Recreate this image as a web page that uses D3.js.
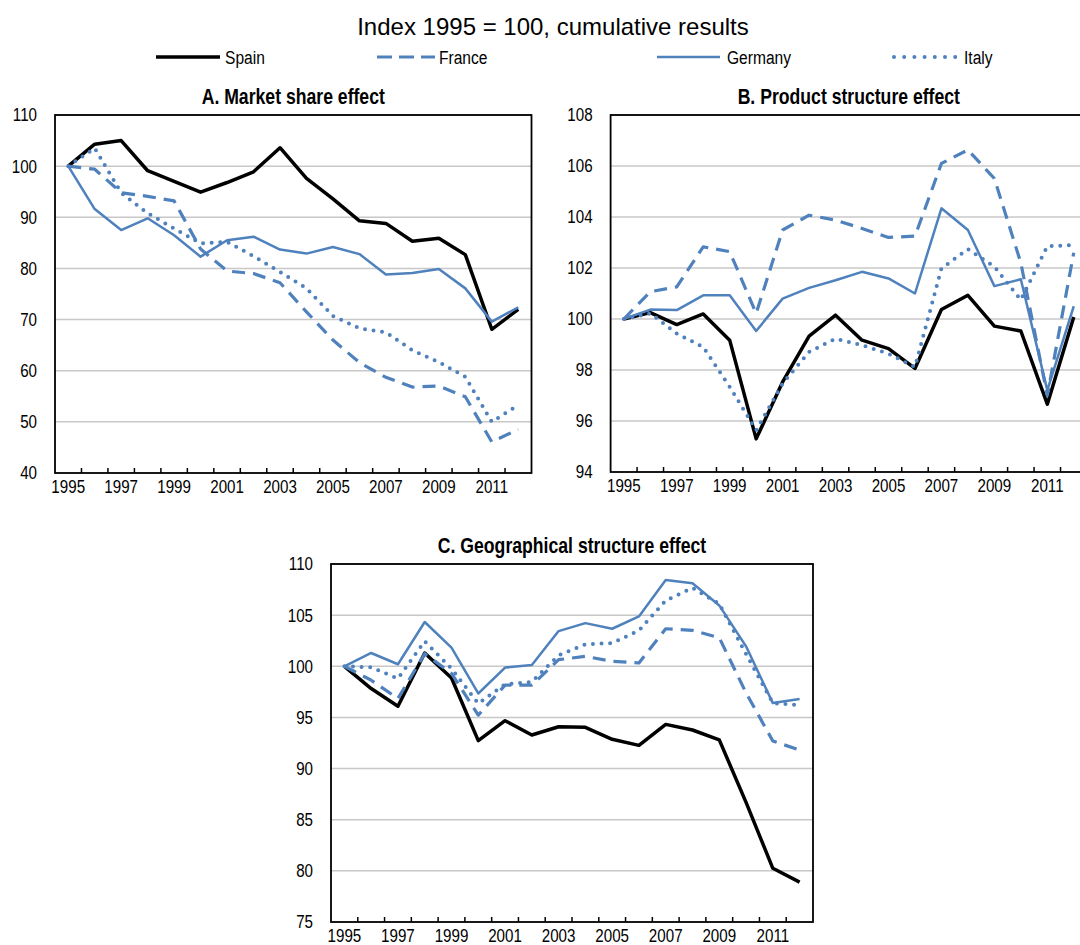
<!DOCTYPE html>
<html lang="en">
<head>
<meta charset="utf-8">
<script src="https://d3js.org/d3.v7.min.js"></script>
<style>
  body { margin: 0; background: #fff; }
  svg { display: block; }
  text { font-family: "Liberation Sans", Arial, sans-serif; }
</style>
</head>
<body>
<script>
// categories
const years = [1995, 1996, 1997, 1998, 1999, 2000, 2001, 2002, 2003, 2004,
               2005, 2006, 2007, 2008, 2009, 2010, 2011, 2012];
const yearLabels = [1995, 1997, 1999, 2001, 2003, 2005, 2007, 2009, 2011];
const countries = ["Spain", "France", "Germany", "Italy"];

// A. Market share effect
const marketSpain   = [100, 104.3, 105.0, 99.1, 97.0, 94.9, 96.8, 98.9, 103.6, 97.6, 93.6, 89.3, 88.8, 85.3, 85.9, 82.7, 68.1, 72.0];
const marketFrance  = [100, 99.4, 94.8, 94.1, 93.2, 83.8, 79.5, 79.0, 77.2, 71.5, 66.0, 61.6, 58.7, 56.8, 57.0, 54.9, 46.1, 48.5];
const marketGermany = [100, 91.6, 87.5, 89.8, 86.5, 82.3, 85.5, 86.2, 83.7, 82.9, 84.2, 82.8, 78.8, 79.1, 79.9, 76.1, 69.6, 72.4];
const marketItaly   = [100, 103.5, 94.8, 90.8, 87.8, 84.9, 85.2, 82.4, 79.3, 76.1, 70.7, 68.3, 67.5, 64.0, 61.7, 58.8, 50.0, 53.3];

// B. Product structure effect
const productSpain   = [100, 100.25, 99.78, 100.2, 99.17, 95.3, 97.53, 99.33, 100.15, 99.17, 98.84, 98.06, 100.37, 100.93, 99.72, 99.53, 96.66, 100.08];
const productFrance  = [100, 101.07, 101.26, 102.83, 102.64, 100.22, 103.49, 104.07, 103.88, 103.55, 103.2, 103.25, 106.1, 106.63, 105.51, 102.2, 97.0, 102.6];
const productGermany = [100, 100.37, 100.35, 100.93, 100.93, 99.53, 100.8, 101.22, 101.52, 101.85, 101.59, 101.0, 104.34, 103.49, 101.29, 101.56, 97.2, 100.5];
const productItaly   = [100, 100.22, 99.43, 98.9, 97.34, 95.64, 97.47, 98.71, 99.23, 98.97, 98.64, 98.12, 101.98, 102.74, 102.05, 100.75, 102.85, 102.9];

// C. Geographical structure effect
const geoSpain   = [100, 97.82, 96.1, 101.3, 98.86, 92.73, 94.68, 93.28, 94.09, 94.03, 92.86, 92.27, 94.32, 93.77, 92.8, 86.7, 80.25, 78.9];
const geoFrance  = [100, 98.64, 96.85, 101.23, 99.3, 95.23, 98.15, 98.15, 100.65, 100.97, 100.49, 100.32, 103.67, 103.51, 102.79, 97.4, 92.7, 91.8];
const geoGermany = [100, 101.3, 100.2, 104.33, 101.82, 97.34, 99.87, 100.13, 103.44, 104.22, 103.67, 104.87, 108.44, 108.12, 105.95, 101.95, 96.4, 96.8];
const geoItaly   = [100, 99.9, 98.8, 102.45, 99.77, 96.36, 98.25, 98.47, 101.07, 102.14, 102.27, 103.5, 106.43, 107.66, 106.1, 101.2, 96.4, 96.2];

const blue = "#4f81bd";
const narrow = 0.82; // Arial Narrow look from Liberation Sans
const styles = {
  Spain:   {stroke: "#000", width: 3.5, dash: null, cap: "butt"},
  France:  {stroke: blue, width: 3.2, dash: "13,8", cap: "butt"},
  Germany: {stroke: blue, width: 2.5, dash: null, cap: "butt"},
  Italy:   {stroke: blue, width: 4, dash: "0,8.6", cap: "round"}
};

const panels = [
  {title: "A. Market share effect", x0: 55, x1: 531.5, y0: 115, y1: 473,
   domain: [40, 110], ticks: [40, 50, 60, 70, 80, 90, 100, 110],
   series: [marketSpain, marketFrance, marketGermany, marketItaly]},
  {title: "B. Product structure effect", x0: 610.6, x1: 1087, y0: 115, y1: 472,
   domain: [94, 108], ticks: [94, 96, 98, 100, 102, 104, 106, 108],
   series: [productSpain, productFrance, productGermany, productItaly]},
  {title: "C. Geographical structure effect", x0: 331, x1: 813, y0: 564, y1: 922,
   domain: [75, 110], ticks: [75, 80, 85, 90, 95, 100, 105, 110],
   series: [geoSpain, geoFrance, geoGermany, geoItaly]}
];

const svg = d3.select("body").append("svg")
  .attr("width", 1080)
  .attr("height", 945);

// condensed text placed at (x, y)
function narrowText(parent, x, y, size, str) {
  return parent.append("text")
    .attr("transform", "translate(" + x + "," + y + ") scale(" + narrow + ",1)")
    .style("font-size", size + "px")
    .text(str);
}

// main title
svg.append("text")
  .attr("x", 553).attr("y", 35)
  .attr("text-anchor", "middle")
  .style("font-size", "24px")
  .text("Index 1995 = 100, cumulative results");

// legend
const legendItems = [
  {name: "Spain", x0: 156, x1: 220, tx: 225},
  {name: "France", x0: 377, x1: 435, tx: 439},
  {name: "Germany", x0: 657, x1: 720, tx: 727},
  {name: "Italy", x0: 894, x1: 956, tx: 964}
];
legendItems.forEach(function(d) {
  const s = styles[d.name];
  svg.append("line")
    .attr("x1", d.x0).attr("x2", d.x1)
    .attr("y1", 57).attr("y2", 57)
    .attr("stroke", s.stroke)
    .attr("stroke-width", s.width)
    .attr("stroke-linecap", s.cap)
    .attr("stroke-dasharray", d.name == "France" ? "15,7" : (d.name == "Italy" ? "0,10.2" : null));
  narrowText(svg, d.tx, 64, 19, d.name);
});

function drawPanel(p) {
  const g = svg.append("g");
  const x = d3.scaleBand().domain(years).range([p.x0, p.x1]);
  const y = d3.scaleLinear().domain(p.domain).range([p.y1, p.y0]);
  const bw = x.bandwidth();

  // gridlines
  g.selectAll(".grid")
    .data(p.ticks.slice(1))
    .enter().append("line")
    .attr("x1", p.x0).attr("x2", p.x1)
    .attr("y1", d => y(d)).attr("y2", d => y(d))
    .attr("stroke", "#c8c8c8")
    .attr("stroke-width", 1.5);

  // y axis labels
  const yAxis = g.append("g")
    .attr("transform", "translate(" + p.x0 + ",0)")
    .call(d3.axisLeft(y).tickValues(p.ticks).tickSize(0).tickFormat(d3.format("d")));
  yAxis.select(".domain").remove();
  yAxis.selectAll("text")
    .attr("x", -18 / narrow)
    .attr("transform", "scale(" + narrow + ",1)")
    .style("font-family", "'Liberation Sans', Arial, sans-serif")
    .style("font-size", "18.5px")
    .attr("fill", "#000");

  // x ticks at category boundaries, pointing inside
  g.selectAll(".xtick")
    .data(years.slice(1))
    .enter().append("line")
    .attr("x1", d => x(d)).attr("x2", d => x(d))
    .attr("y1", p.y1).attr("y2", p.y1 - 5)
    .attr("stroke", "#000")
    .attr("stroke-width", 1.5);

  yearLabels.forEach(function(yr) {
    narrowText(g, x(yr) + bw / 2, p.y1 + 19.5, 18.5, yr)
      .attr("text-anchor", "middle");
  });

  // lines
  const line = d3.line()
    .x((d, i) => x(years[i]) + bw / 2)
    .y(d => y(d));
  p.series.forEach(function(vals, k) {
    const s = styles[countries[k]];
    g.append("path")
      .datum(vals)
      .attr("d", line)
      .attr("fill", "none")
      .attr("stroke", s.stroke)
      .attr("stroke-width", s.width)
      .attr("stroke-linejoin", "round")
      .attr("stroke-linecap", s.cap)
      .attr("stroke-dasharray", s.dash);
  });

  // frame
  g.append("rect")
    .attr("x", p.x0).attr("y", p.y0)
    .attr("width", p.x1 - p.x0).attr("height", p.y1 - p.y0)
    .attr("fill", "none")
    .attr("stroke", "#000")
    .attr("stroke-width", 1.8);

  // panel title
  narrowText(g, (p.x0 + p.x1) / 2, p.y0 - 11, 21.5, p.title)
    .attr("text-anchor", "middle")
    .style("font-weight", "bold");
}

panels.forEach(drawPanel);
</script>
</body>
</html>
